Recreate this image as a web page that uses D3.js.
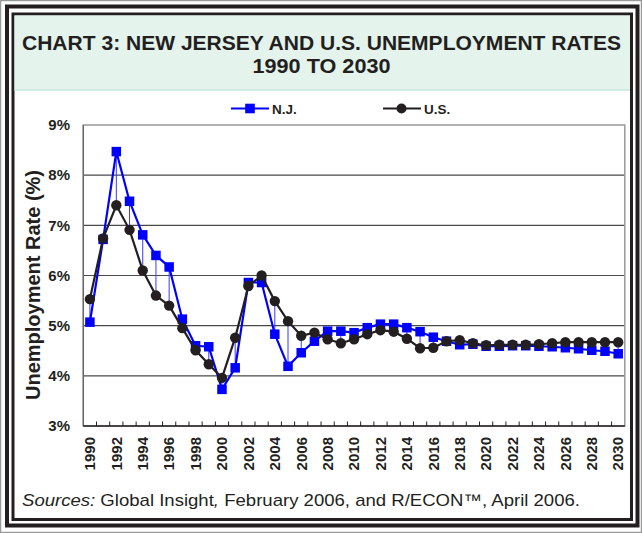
<!DOCTYPE html>
<html><head><meta charset="utf-8">
<script src="https://cdn.jsdelivr.net/npm/d3@7"></script>
<style>
html,body{margin:0;padding:0;background:#fff;}
svg{display:block;font-family:"Liberation Sans",Arial,sans-serif;}
</style></head>
<body>
<svg id="c" width="642" height="533"></svg>
<script>
const years = [1990,1991,1992,1993,1994,1995,1996,1997,1998,1999,2000,2001,2002,2003,2004,2005,2006,2007,2008,2009,2010,2011,2012,2013,2014,2015,2016,2017,2018,2019,2020,2021,2022,2023,2024,2025,2026,2027,2028,2029,2030];
const njRates = [5.07,6.72,8.47,7.48,6.81,6.40,6.17,5.13,4.60,4.58,3.73,4.16,5.86,5.86,4.83,4.19,4.46,4.69,4.89,4.89,4.86,4.96,5.03,5.03,4.96,4.88,4.77,4.69,4.62,4.63,4.59,4.59,4.60,4.60,4.59,4.58,4.56,4.54,4.51,4.49,4.44];
const usRates = [5.53,6.74,7.40,6.91,6.10,5.60,5.40,4.95,4.51,4.23,3.96,4.76,5.79,6.00,5.49,5.09,4.80,4.86,4.73,4.65,4.73,4.83,4.91,4.88,4.74,4.55,4.56,4.69,4.71,4.65,4.61,4.62,4.62,4.62,4.63,4.65,4.67,4.67,4.67,4.67,4.67];
const yTicks = [3,4,5,6,7,8,9];
const xLabelYears = years.filter(y => y % 2 === 0);
const seriesNames = ["N.J.", "U.S."];
const titleLines = ["CHART 3: NEW JERSEY AND U.S. UNEMPLOYMENT RATES", "1990 TO 2030"];

const svg = d3.select("#c");
const W = 642, H = 533;
const NJ = "#0000ff", US = "#231f20";

// outer frames
svg.append("rect").attr("x",0.5).attr("y",0.5).attr("width",W-1).attr("height",H-1).attr("fill","none").attr("stroke","#9a9a9a").attr("stroke-width",1.5);
svg.append("rect").attr("x",7).attr("y",6.5).attr("width",630.5).attr("height",519).attr("fill","none").attr("stroke","#231f20").attr("stroke-width",4);
svg.append("rect").attr("x",13).attr("y",14).attr("width",618.5).attr("height",505.5).attr("fill","none").attr("stroke","#231f20").attr("stroke-width",3);

// title box
svg.append("rect").attr("x",14.5).attr("y",15.5).attr("width",615.5).attr("height",75).attr("fill","#e4f3ec");
svg.append("line").attr("x1",14.5).attr("x2",630).attr("y1",90).attr("y2",90).attr("stroke","#cbe7db").attr("stroke-width",1.5);
svg.append("text").attr("x",321.5).attr("y",50).attr("text-anchor","middle").attr("font-size",20).attr("font-weight","bold").attr("fill","#231f20")
  .attr("textLength",599).attr("lengthAdjust","spacingAndGlyphs").text(titleLines[0]);
svg.append("text").attr("x",321.5).attr("y",73).attr("text-anchor","middle").attr("font-size",20).attr("font-weight","bold").attr("fill","#231f20")
  .attr("textLength",138).attr("lengthAdjust","spacingAndGlyphs").text(titleLines[1]);

// scales
const x = d3.scaleBand().domain(years).range([83.3, 624.8]).padding(0);
const cx = d => x(d) + x.bandwidth()/2;
const y = d3.scaleLinear().domain([3,9]).range([426,125]);

// gridlines
svg.append("g").selectAll("line").data(yTicks.filter(t => t > 3 && t < 9)).join("line")
  .attr("x1",83.3).attr("x2",624.8).attr("y1",d=>y(d)).attr("y2",d=>y(d))
  .attr("stroke","#4a4a4a").attr("stroke-width",1.2);

// plot frame
svg.append("rect").attr("x",83.3).attr("y",y(9)).attr("width",624.8-83.3).attr("height",y(3)-y(9))
  .attr("fill","none").attr("stroke","#999").attr("stroke-width",1.5);
svg.append("line").attr("x1",83.3).attr("x2",83.3).attr("y1",y(9)).attr("y2",y(3)).attr("stroke","#666").attr("stroke-width",1.3);

// x axis
const xAxisG = svg.append("g").attr("transform","translate(0,426)");
xAxisG.append("line").attr("x1",83.3).attr("x2",624.8).attr("stroke","#231f20").attr("stroke-width",1.3);
xAxisG.selectAll("line.tk").data(years.slice(1)).join("line").attr("class","tk")
  .attr("x1",d=>x(d)).attr("x2",d=>x(d)).attr("y1",0).attr("y2",-4.5).attr("stroke","#231f20").attr("stroke-width",1);
xAxisG.selectAll("text").data(xLabelYears).join("text")
  .attr("transform",d=>`translate(${cx(d)+5.3},11) rotate(-90)`)
  .attr("text-anchor","end").attr("font-size",15).attr("font-weight","bold").attr("fill","#231f20")
  .text(d=>d);

// y axis labels
svg.append("g").selectAll("text").data(yTicks).join("text")
  .attr("x",70).attr("y",d=>y(d)+5.3).attr("text-anchor","end").attr("font-size",15).attr("font-weight","bold").attr("fill","#231f20")
  .text(d=>d+"%");
svg.append("text").attr("transform","translate(40,285) rotate(-90)").attr("text-anchor","middle")
  .attr("font-size",20).attr("font-weight","bold").attr("fill","#231f20").text("Unemployment Rate (%)");

// drop lines (high-low)
svg.append("g").selectAll("line").data(years).join("line")
  .attr("x1",d=>cx(d)).attr("x2",d=>cx(d))
  .attr("y1",(d,i)=>y(njRates[i])).attr("y2",(d,i)=>y(usRates[i]))
  .attr("stroke","#3a3aff").attr("stroke-width",1);

// NJ series
const lineGen = d3.line().x(d=>cx(d[0])).y(d=>y(d[1]));
svg.append("path").datum(years.map((yr,i)=>[yr,njRates[i]])).attr("d",lineGen)
  .attr("fill","none").attr("stroke",NJ).attr("stroke-width",2.2);
const sq = 9.5;
svg.append("g").selectAll("rect").data(years).join("rect")
  .attr("x",d=>cx(d)-sq/2).attr("y",(d,i)=>y(njRates[i])-sq/2).attr("width",sq).attr("height",sq).attr("fill",NJ);

// US series
svg.append("path").datum(years.map((yr,i)=>[yr,usRates[i]])).attr("d",lineGen)
  .attr("fill","none").attr("stroke",US).attr("stroke-width",2.2);
svg.append("g").selectAll("circle").data(years).join("circle")
  .attr("cx",d=>cx(d)).attr("cy",(d,i)=>y(usRates[i])).attr("r",5.2).attr("fill",US);

// legend
const leg = [{name:seriesNames[0], x0:231, col:NJ, shape:"sq"},{name:seriesNames[1], x0:383, col:US, shape:"ci"}];
const lg = svg.append("g").selectAll("g").data(leg).join("g").attr("transform",d=>`translate(${d.x0},108.5)`);
lg.append("line").attr("x1",0).attr("x2",38).attr("stroke",d=>d.col).attr("stroke-width",2);
lg.filter(d=>d.shape==="sq").append("rect").attr("x",19-4.8).attr("y",-4.8).attr("width",9.6).attr("height",9.6).attr("fill",d=>d.col);
lg.filter(d=>d.shape==="ci").append("circle").attr("cx",18.5).attr("r",5).attr("fill",d=>d.col);
lg.append("text").attr("x",41).attr("y",5).attr("font-size",13.5).attr("font-weight","bold").attr("fill","#231f20").text(d=>d.name);

// source
const src = svg.append("text").attr("x",22).attr("y",506).attr("font-size",17).attr("fill","#231f20")
  .attr("textLength",558).attr("lengthAdjust","spacingAndGlyphs");
src.append("tspan").attr("font-style","italic").text("Sources:");
src.append("tspan").text(" Global Insight");
src.append("tspan").attr("font-style","italic").text(",");
src.append("tspan").text(" February 2006, and R/ECON™, April 2006.");
</script>
</body></html>
